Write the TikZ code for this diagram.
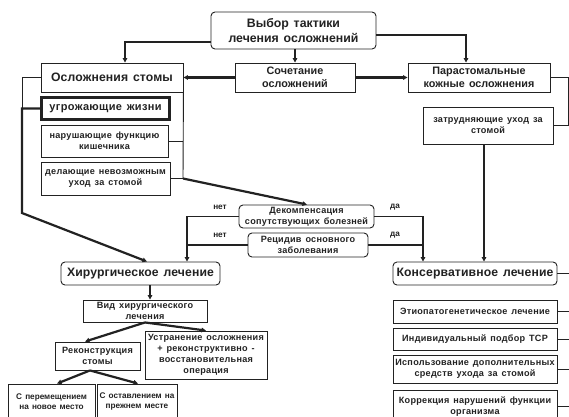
\documentclass[tikz,border=0pt]{standalone}
\usepackage{fontspec}
\setmainfont{Liberation Sans}[WordSpace=1.4]
\usetikzlibrary{arrows.meta}
\newcommand\fzA{\fontsize{12.3}{15}\selectfont}
\newcommand\fzB{\fontsize{12.2}{14}\selectfont\addfontfeature{LetterSpace=1}}
\newcommand\fzC{\fontsize{10.8}{12.5}\selectfont}
\newcommand\fzU{\fontsize{11}{13}\selectfont\addfontfeature{LetterSpace=3}}
\newcommand\fzD{\fontsize{9.1}{11}\selectfont\addfontfeature{LetterSpace=3}}
\newcommand\fzE{\fontsize{8.2}{10.5}\selectfont}
\definecolor{ink}{HTML}{222222}
\begin{document}
\begin{tikzpicture}[x=1pt,y=-1pt,
  box/.style={draw=ink, line width=0.9pt, inner sep=1pt, align=center, text=ink, font=\bfseries\fzD},
  rbox/.style={box, rounded corners=4pt},
  ln/.style={draw=ink, line width=0.9pt},
  thk/.style={draw=ink, line width=2.2pt},
  mid/.style={draw=ink, line width=1.3pt},
  arr/.style={-{Triangle[length=4.5pt,width=4.5pt]}},
  lbl/.style={font=\bfseries\fzE, text=ink, inner sep=0pt}]
\useasboundingbox (0,0) rectangle (569,416);
\fill[white] (0,0) rectangle (569,416);
\clip (0,0) rectangle (569,416);

% boxes
\node[rbox, minimum width=165pt, minimum height=37pt, font=\bfseries\fzA] (top) at (293.5,30.5) {Выбор тактики\\лечения осложнений};
\node[box, minimum width=142pt, minimum height=29pt, font=\bfseries\fzB] (osl) at (112,77.5) {Осложнения стомы};
\node[box, minimum width=120pt, minimum height=29pt, font=\bfseries\fzC] (soch) at (295,77.5) {Сочетание\\осложнений};
\node[box, minimum width=142pt, minimum height=29pt, font=\bfseries\fzC] (para) at (479,77.5) {Парастомальные\\кожные осложнения};
\node[box, line width=2.2pt, minimum width=128pt, minimum height=22pt, font=\bfseries\fzU] (ugr) at (105.5,108.5) {угрожающие  жизни};
\node[box, minimum width=127pt, minimum height=32pt] (nar) at (104.5,141) {нарушающие функцию\\кишечника};
\node[box, minimum width=129pt, minimum height=33pt] (del) at (105.5,178.5) {делающие невозможным\\уход за стомой};
\node[box, minimum width=130pt, minimum height=37pt] (zatr) at (488,125.5) {затрудняющие уход за\\стомой};
\node[rbox, minimum width=135pt, minimum height=23pt] (dek) at (306.5,216.5) {Декомпенсация\\сопутствующих болезней};
\node[rbox, minimum width=120pt, minimum height=24pt] (rec) at (308,245) {Рецидив основного\\заболевания};
\node[rbox, minimum width=159pt, minimum height=23pt, font=\bfseries\fzB] (hir) at (140.5,273.5) {Хирургическое лечение};
\node[rbox, minimum width=164pt, minimum height=23pt, font=\bfseries\fzB] (kons) at (475,273.5) {Консервативное лечение};
\node[box, minimum width=124pt, minimum height=22pt] (vid) at (145,311) {Вид хирургического\\лечения};
\node[box, minimum width=85pt, minimum height=28pt] (rek) at (97.5,356) {Реконструкция\\стомы};
\node[box, minimum width=122pt, minimum height=48pt] (ustr) at (206,355) {Устранение осложнения\\+ реконструктивно -\\восстановительная\\операция};
\node[box, minimum width=87pt, minimum height=35pt, font=\bfseries\fzE] (sper) at (51.5,401.5) {С перемещением\\на новое место};
\node[box, minimum width=80pt, minimum height=35pt, font=\bfseries\fzE] (sost) at (137,401.5) {С оставлением на\\прежнем месте};
\node[box, minimum width=164pt, minimum height=23pt] (etio) at (475,311.5) {Этиопатогенетическое лечение};
\node[box, minimum width=164pt, minimum height=22pt] (ind) at (475,339) {Индивидуальный подбор ТСР};
\node[box, minimum width=164pt, minimum height=28pt] (isp) at (475,369) {Использование дополнительных\\средств ухода за стомой};
\node[box, minimum width=164pt, minimum height=33pt] (kor) at (475,406.5) {Коррекция нарушений функции\\организма};

% labels
\node[lbl] (n1) at (220,207) {нет};
\node[lbl] (n2) at (220,235) {нет};
\node[lbl] (d1) at (395,207) {да};
\node[lbl] (d2) at (395,235) {да};

% helper coordinates
\coordinate (L) at (22,108.5);
\coordinate (Lb) at (22,213);
\coordinate (R) at (183,178.5);
\coordinate (E0) at (575,273.5);

% connectors top
\draw[thk,arr] (top.west |- 0,42) -| (osl.north -| 125,0);
\draw[thk,arr] (top.south -| soch.north) -- (soch.north);
\draw[mid,arr] (top.east |- 0,35) -| (para.north -| 466,0);
\draw[thk,arr] (soch.west) -- (osl.east);
\draw[thk,arr] (soch.east) -- (para.west);
\draw[ln] (para.east) -- ++(18,0) |- (zatr.east);
\draw[thk,arr] (zatr.south -| 484,0) -- (kons.north -| 484,0);

% left column
\draw[ln] (osl.west) -| (L);
\draw[thk,arr] (ugr.west) -- (L) -- (Lb) -- (hir.north -| 147,0);
\draw[ln] (osl.south east) -- (R);
\draw[ln] (nar.east) -- (nar.east -| R);
\draw[ln] (del.east) -- (R);
\draw[thk,arr] (R) -- (dek.north -| 307,0);

% decisions
\draw[mid,arr] (dek.west) -| (hir.north -| 187,0);
\draw[mid] (rec.west) -- (rec.west -| 187,0);
\draw[mid,arr] (dek.east) -| (kons.north -| 423,0);
\draw[mid] (rec.east) -- (rec.east -| 423,0);

% surgical tree
\draw[thk,arr] (hir.south -| 150,0) -- (vid.north -| 150,0);
\draw[thk,arr] (vid.south) -- (rek.north -| 85,0);
\draw[thk,arr] (vid.south) -- (ustr.north);
\draw[thk,arr] (rek.south -| 90,0) -- (sper.north -| 57,0);
\draw[thk,arr] (rek.south -| 90,0) -- (sost.north -| 138,0);

% conservative ticks
\draw[ln] (kons.east) -- (E0);
\foreach \n in {etio,ind,isp,kor} \draw[ln] (\n.east) -- (\n.east -| E0);
\end{tikzpicture}
\end{document}
